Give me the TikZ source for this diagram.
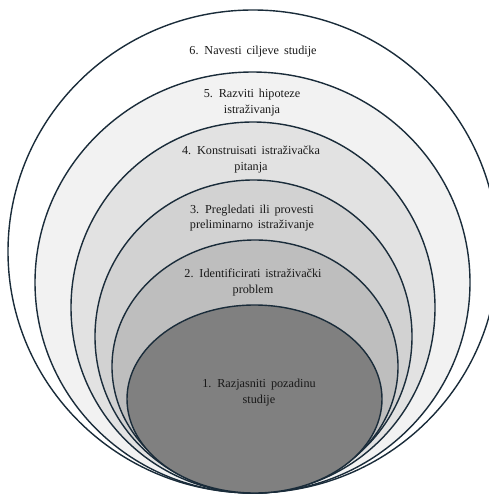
\documentclass[tikz,border=0pt]{standalone}
\usepackage{fontspec}
\setmainfont{Liberation Serif}[WordSpace={1.6,0,0}]
\definecolor{rim}{HTML}{1A2C3A}
\definecolor{band5}{HTML}{F2F2F2}
\definecolor{band4}{HTML}{E2E2E2}
\definecolor{band3}{HTML}{D2D2D2}
\definecolor{band2}{HTML}{BEBEBE}
\definecolor{band1}{HTML}{808080}

\begin{document}
\begin{tikzpicture}[x=1pt,y=-1pt,
    ring/.style={draw=rim,line width=1.4pt},
    steplabel/.style={align=center,text=black!90,
        font=\fontsize{12.2}{15.5}\selectfont}]
    \useasboundingbox (0,0) rectangle (489,495);

    \begin{scope}
        \clip (0,0) rectangle (489,495);
        \filldraw[ring,fill=white] (253,251.5) ellipse [x radius=245pt, y radius=241.5pt];
        \filldraw[ring,fill=band5] (252.5,282.5) ellipse [x radius=217.5pt, y radius=210.5pt];
        \filldraw[ring,fill=band4] (253,307.5) ellipse [x radius=182pt, y radius=185.5pt];
        \filldraw[ring,fill=band3] (253.5,336.5) ellipse [x radius=158.5pt, y radius=156.5pt];
        \filldraw[ring,fill=band2] (255,366.5) ellipse [x radius=143pt, y radius=126.5pt];
        \filldraw[ring,fill=band1] (254.5,399) ellipse [x radius=127.5pt, y radius=94pt];
    \end{scope}

    \node[steplabel] (s6) at (253,52) {6. Navesti ciljeve studije};
    \node[steplabel] (s5) at (252,102.5) {5. Razviti hipoteze\\istraživanja};
    \node[steplabel] (s4) at (251,159.5) {4. Konstruisati istraživačka\\pitanja};
    \node[steplabel] (s3) at (252,218) {3. Pregledati ili provesti\\preliminarno istraživanje};
    \node[steplabel] (s2) at (253,282.5) {2. Identificirati istraživački\\problem};
    \node[steplabel] (s1) at (259,392.5) {1. Razjasniti pozadinu\\studije};
\end{tikzpicture}
\end{document}
